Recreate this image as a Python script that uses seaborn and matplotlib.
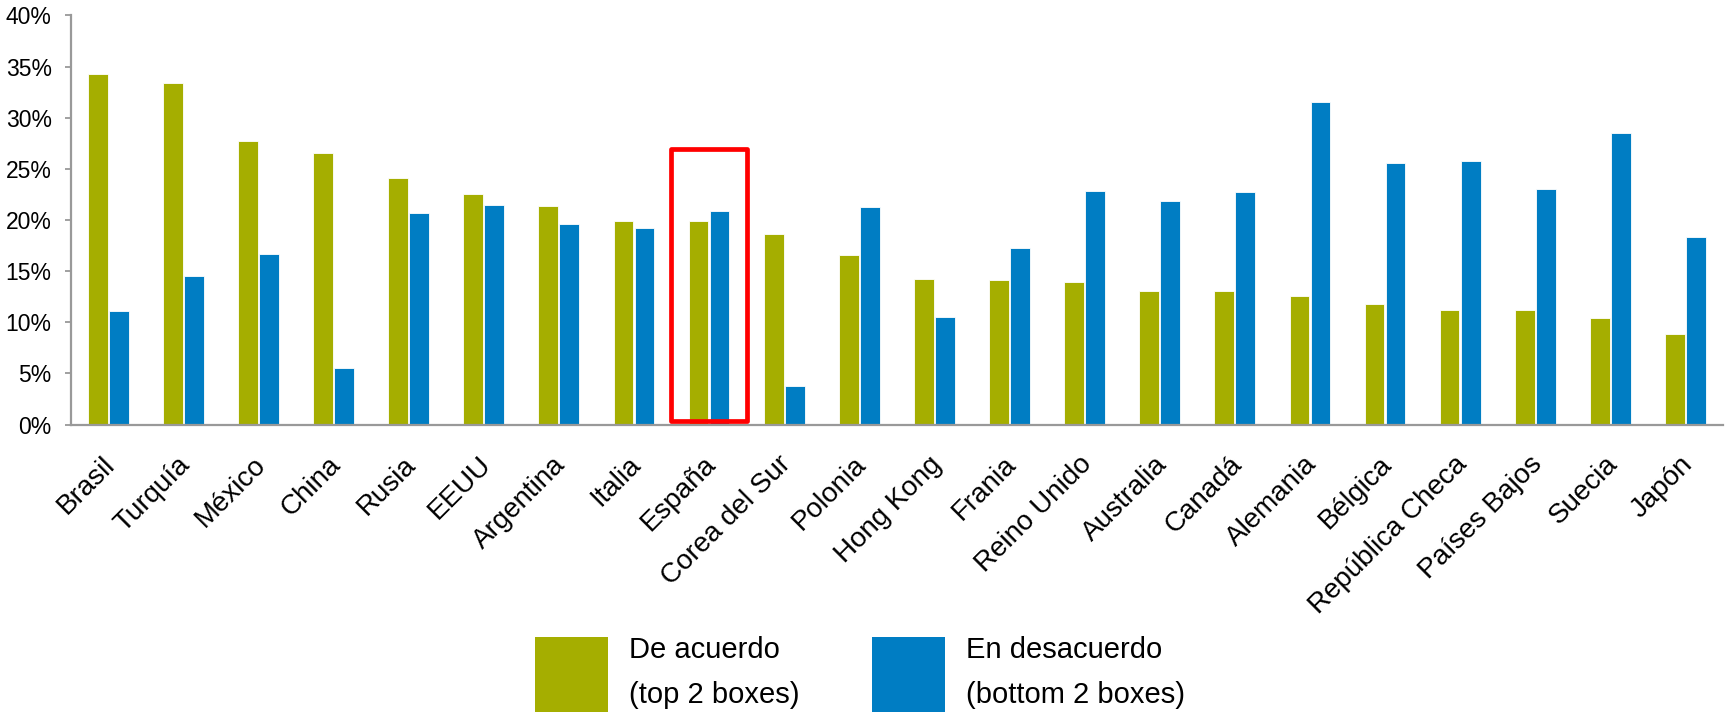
import matplotlib
matplotlib.use("Agg")
import matplotlib.pyplot as plt
import matplotlib.transforms as mtransforms
import seaborn as sns
import pandas as pd
from matplotlib.patches import Rectangle, Patch
from matplotlib.ticker import PercentFormatter

countries = ["Brasil", "Turquía", "México", "China", "Rusia", "EEUU", "Argentina",
             "Italia", "España", "Corea del Sur", "Polonia", "Hong Kong", "Frania",
             "Reino Unido", "Australia", "Canadá", "Alemania", "Bélgica",
             "República Checa", "Países Bajos", "Suecia", "Japón"]
de_acuerdo = [34.3, 33.4, 27.7, 26.5, 24.1, 22.5, 21.4, 19.9, 19.9, 18.6, 16.6,
              14.2, 14.1, 13.9, 13.1, 13.1, 12.6, 11.8, 11.2, 11.2, 10.4, 8.8]
en_desacuerdo = [11.1, 14.5, 16.7, 5.5, 20.7, 21.5, 19.6, 19.2, 20.9, 3.8, 21.3,
                 10.5, 17.3, 22.8, 21.9, 22.7, 31.5, 25.6, 25.8, 23.0, 28.5, 18.3]
series_labels = ["De acuerdo\n(top 2 boxes)", "En desacuerdo\n(bottom 2 boxes)"]
y_ticks = [0, 5, 10, 15, 20, 25, 30, 35, 40]
highlight = "España"

colors = ["#A5AE00", "#007DC3"]

df = pd.DataFrame({
    "country": countries * 2,
    "value": de_acuerdo + en_desacuerdo,
    "serie": [series_labels[0]] * len(countries) + [series_labels[1]] * len(countries),
})

sns.set_theme(style="white")
plt.rcParams["font.family"] = ["Liberation Sans", "DejaVu Sans"]
plt.rcParams["text.color"] = "black"

W, H = 1729, 713
fig = plt.figure(figsize=(W / 100, H / 100), dpi=100)
ax_left, ax_right, ax_top, ax_bottom = 70.6, 1723, 15.4, 424.5
ax = fig.add_axes([ax_left / W, 1 - ax_bottom / H, (ax_right - ax_left) / W,
                   (ax_bottom - ax_top) / H])

sns.barplot(data=df, x="country", y="value", hue="serie", order=countries,
            hue_order=series_labels, palette=colors, width=0.56, gap=0.06,
            edgecolor="white", linewidth=0.6, saturation=1, ax=ax, legend=True)

ax.set_xlim(-0.5, len(countries) - 0.5)
ax.set_ylim(0, 40)
ax.set_yticks(y_ticks)
ax.yaxis.set_major_formatter(PercentFormatter(decimals=0))
ax.set_xlabel("")
ax.set_ylabel("")

for s in ["top", "right"]:
    ax.spines[s].set_visible(False)
for s in ["left", "bottom"]:
    ax.spines[s].set_color("#999999")
    ax.spines[s].set_linewidth(1.6)

ax.tick_params(axis="y", direction="out", length=4, width=1.3, color="#999999",
               labelsize=16.5, pad=9.6, left=True, labelcolor="black")
ax.tick_params(axis="x", length=0, labelsize=20, pad=10, labelcolor="black")
shift = mtransforms.ScaledTranslation(-6 / 100, -13 / 100, fig.dpi_scale_trans)
for lbl in ax.get_xticklabels():
    lbl.set_rotation(45)
    lbl.set_ha("right")
    lbl.set_va("top")
    lbl.set_rotation_mode("anchor")
    lbl.set_transform(lbl.get_transform() + shift)

# highlight box around España
i = countries.index(highlight)
rect = Rectangle((i - 0.5, 0.35), 1.0, 26.55, fill=False, edgecolor="#FF0000",
                 linewidth=3.4, joinstyle="round", clip_on=False, zorder=5)
ax.add_patch(rect)

ax.get_legend().remove()
handles = [Patch(facecolor=c, edgecolor="none") for c in colors]
leg = fig.legend(handles, series_labels, loc="center",
                 bbox_to_anchor=(860 / W, 1 - 674 / H),
                 ncol=2, frameon=False, fontsize=21, handlelength=2.5,
                 handleheight=3.58, handletextpad=0.7, columnspacing=2.5,
                 borderpad=0.0, borderaxespad=0.0)
for t in leg.get_texts():
    t.set_linespacing(1.77)
    t.set_color("black")

fig.savefig("out.png", dpi=100)
